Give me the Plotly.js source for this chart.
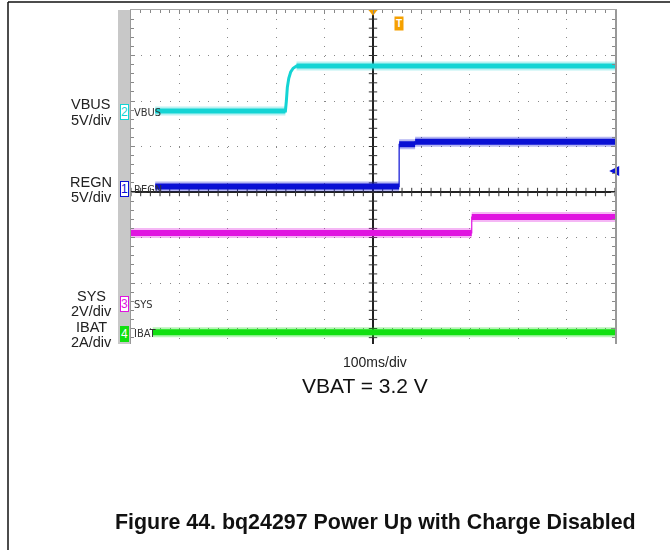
<!DOCTYPE html>
<html><head><meta charset="utf-8">
<script src="https://cdn.plot.ly/plotly-3.0.1.min.js"></script>
<style>html,body{margin:0;padding:0;background:#fff;} #chart{width:670px;height:550px;}</style>
</head><body><div id="chart"></div>
<script>
// Time axis in ms (100 ms/div), vertical values in scope divisions from centre line
const vbusT = [-450, -181, -179, -177, -174, -170, -165, -158, 500];
const vbusV = [1.78, 1.78, 2.00, 2.30, 2.50, 2.64, 2.72, 2.77, 2.77];
const regnT = [-450, 54, 54, 87, 87, 500];
const regnV = [0.12, 0.12, 1.05, 1.05, 1.105, 1.105];
const sysT  = [-500, 204, 204, 500];
const sysV  = [-0.90, -0.90, -0.55, -0.55];
const ibatT = [-455, 500];
const ibatV = [-3.08, -3.08];
const channelNames = ['VBUS', 'REGN', 'SYS', 'IBAT'];
const channelScales = ['5V/div', '5V/div', '2V/div', '2A/div'];
const channelNumbers = ['2', '1', '3', '4'];
const ch1RefT = [488], ch1RefV = [0.46];
const trigT = [0], trigV = [3.96];
const trigTagT = 54, trigTagV = 3.70;
const timeLabel = '100ms/div';
const noteLabel = 'VBAT = 3.2 V';
const figTitle = 'Figure 44. bq24297 Power Up with Charge Disabled';

const colors = ['#14d4d4', '#0a10d4', '#e014e0', '#10e010'];
const waves = [[vbusT, vbusV], [regnT, regnV], [sysT, sysV], [ibatT, ibatV]];
const coreW = [5, 6, 6, 6];

// split into flat level segments (edges drawn thin)
function band(t, v) {
  const x = [], y = [];
  for (let i = 0; i < t.length; i++) {
    if (i > 0 && (t[i] - t[i-1]) < 10) { x.push(null); y.push(null); }
    x.push(t[i]); y.push(v[i]);
  }
  return [x, y];
}

const traces = [];
// centre-line tick marks
const cx = [], cy = [], vx = [], vy = [];
for (let k = -25; k <= 25; k++) { cx.push(k * 20); cy.push(0); }
for (let k = -17; k <= 20; k++) { vx.push(0); vy.push(k * 0.2); }
traces.push({x: cx, y: cy, mode: 'markers', hoverinfo: 'skip',
  marker: {symbol: 'line-ns', size: 6, line: {color: '#333', width: 1}}});
traces.push({x: vx, y: vy, mode: 'markers', hoverinfo: 'skip',
  marker: {symbol: 'line-ew', size: 6, line: {color: '#333', width: 1}}});

waves.forEach((w, i) => {
  const b = band(w[0], w[1]);
  traces.push({x: b[0], y: b[1], mode: 'lines', connectgaps: false, hoverinfo: 'skip',
    line: {color: colors[i], width: coreW[i] + 4}, opacity: 0.3});
  traces.push({x: b[0], y: b[1], mode: 'lines', connectgaps: false, hoverinfo: 'skip',
    line: {color: colors[i], width: coreW[i]}});
  traces.push({x: w[0], y: w[1], mode: 'lines', hoverinfo: 'skip',
    line: {color: colors[i], width: i === 0 ? 3 : 1.2}});
});

traces.push({x: ch1RefT, y: ch1RefV, mode: 'markers', hoverinfo: 'skip', cliponaxis: false,
  marker: {symbol: 'arrow-left', size: 10, color: colors[1]}});
traces.push({x: trigT, y: trigV, mode: 'markers', hoverinfo: 'skip', cliponaxis: false,
  marker: {symbol: 'triangle-down', size: 8, color: '#f5a000'}});

const px = p => (p - 131) / 484;
const py = p => (344 - p) / 334;
const ann = [];
const lab = [[104, 120], [181.5, 197], [296, 311], [327, 342]];
const tagY = [112.5, 189, 304, 333.5];
const baseFont = {family: 'Liberation Sans, Arial, sans-serif', size: 14.5, color: '#222'};
channelNames.forEach((n, i) => {
  ann.push({xref: 'paper', yref: 'paper', x: px(91), y: py(lab[i][0]), text: n, showarrow: false,
    xanchor: 'center', yanchor: 'middle', font: baseFont, height: 14});
  ann.push({xref: 'paper', yref: 'paper', x: px(91), y: py(lab[i][1]), text: channelScales[i], showarrow: false,
    xanchor: 'center', yanchor: 'middle', font: baseFont, height: 14});
  const filled = i === 3;
  ann.push({xref: 'paper', yref: 'paper', x: px(124), y: py(tagY[i]), text: channelNumbers[i], showarrow: false,
    xanchor: 'center', yanchor: 'middle', bgcolor: filled ? colors[i] : '#fff', bordercolor: colors[i],
    borderwidth: 1, borderpad: 0,
    font: {family: 'Liberation Sans, Arial, sans-serif', size: 12, color: filled ? '#fff' : colors[i]}});
  ann.push({xref: 'paper', yref: 'paper', x: px(132), y: py(tagY[i]), text: n, showarrow: false,
    xanchor: 'left', yanchor: 'middle',
    font: {family: 'Liberation Sans Narrow, DejaVu Sans Condensed, Arial Narrow, sans-serif', size: 11, color: '#333'}});
});
ann.push({xref: 'x', yref: 'y', x: trigTagT, y: trigTagV, text: '<b>T</b>', showarrow: false,
  bgcolor: '#f5a000', borderpad: 1, font: {family: 'Liberation Sans, Arial', size: 10, color: '#fff'}});
ann.push({xref: 'paper', yref: 'paper', x: px(375), y: py(362), text: timeLabel, showarrow: false,
  xanchor: 'center', yanchor: 'middle', font: {family: 'Liberation Sans, Arial', size: 14, color: '#222'}});
ann.push({xref: 'paper', yref: 'paper', x: px(365), y: py(385), text: noteLabel, showarrow: false,
  xanchor: 'center', yanchor: 'middle', font: {family: 'Liberation Sans, Arial', size: 21, color: '#111'}});
ann.push({xref: 'paper', yref: 'paper', x: px(113), y: py(522), text: '<b>' + figTitle + '</b>', showarrow: false,
  xanchor: 'left', yanchor: 'middle', font: {family: 'Liberation Sans, Arial', size: 21.4, color: '#111'}});

const layout = {
  width: 670, height: 550, showlegend: false,
  margin: {l: 131, r: 55, t: 10, b: 206, pad: 0},
  paper_bgcolor: '#fff', plot_bgcolor: '#fff',
  xaxis: {range: [-500, 500], side: 'top', showline: true, linecolor: '#a8a8a8', linewidth: 1, mirror: false,
    ticks: 'inside', ticklen: 4, tickcolor: '#888', tick0: 0, dtick: 100, showticklabels: false,
    showgrid: true, gridcolor: '#888', gridwidth: 1, griddash: '1px,8.1px',
    zeroline: true, zerolinecolor: '#222', zerolinewidth: 1.5,
    minor: {dtick: 20, ticks: 'inside', ticklen: 3, tickcolor: '#888', showgrid: false}, fixedrange: true},
  yaxis: {range: [-3.34, 4], showline: true, linecolor: '#999', linewidth: 1.5, mirror: 'ticks',
    ticks: 'inside', ticklen: 4, tickcolor: '#888', tick0: 0, dtick: 1, showticklabels: false,
    showgrid: true, gridcolor: '#888', gridwidth: 1, griddash: '1px,8.68px',
    zeroline: true, zerolinecolor: '#222', zerolinewidth: 1.5,
    minor: {dtick: 0.2, ticks: 'inside', ticklen: 3, tickcolor: '#888', showgrid: false}, fixedrange: true},
  shapes: [
    {type: 'rect', xref: 'paper', yref: 'paper', x0: px(118), x1: px(130.5), y0: 0, y1: py(10),
      fillcolor: '#c8c8c8', line: {width: 0}, layer: 'below'},
    {type: 'line', xref: 'paper', yref: 'paper', x0: px(8), x1: px(672), y0: py(2), y1: py(2),
      line: {color: '#111', width: 1.5}},
    {type: 'line', xref: 'paper', yref: 'paper', x0: px(8), x1: px(8), y0: py(2), y1: py(552),
      line: {color: '#111', width: 1.5}}
  ],
  annotations: ann
};
Plotly.newPlot('chart', traces, layout, {staticPlot: true, displayModeBar: false});
</script></body></html>
